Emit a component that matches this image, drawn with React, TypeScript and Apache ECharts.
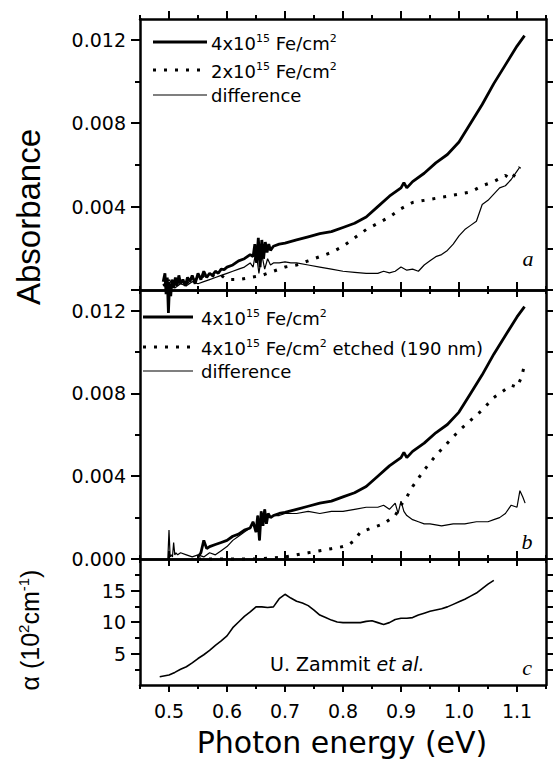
import React, { useEffect, useRef } from 'react';
import * as echarts from 'echarts';

// ---------- axis ticks ----------
const xMajor = [0.5, 0.6, 0.7, 0.8, 0.9, 1.0, 1.1];
const xMinor = [0.45, 0.55, 0.65, 0.75, 0.85, 0.95, 1.05, 1.15];
const absMajor = [0, 0.004, 0.008, 0.012];
const absMinor = [0.002, 0.006, 0.010];
const absLabelsA = [0.004, 0.008, 0.012];
const absLabelsB = [0, 0.004, 0.008, 0.012];
const alphaMajor = [5, 10, 15];
const alphaMinor = [2.5, 7.5, 12.5, 17.5];

// ---------- panel a ----------
const a4E = [0.490, 0.493, 0.495, 0.497, 0.499, 0.501, 0.503, 0.505, 0.508, 0.511, 0.514, 0.517, 0.52, 0.524, 0.528, 0.532, 0.536, 0.54, 0.545, 0.55, 0.555, 0.56, 0.565, 0.57, 0.575, 0.58, 0.585, 0.59, 0.595, 0.6, 0.61, 0.62, 0.63, 0.64, 0.645, 0.648, 0.651, 0.654, 0.657, 0.66, 0.663, 0.666, 0.669, 0.672, 0.675, 0.68, 0.69, 0.7, 0.72, 0.74, 0.76, 0.78, 0.8, 0.82, 0.84, 0.86, 0.88, 0.9, 0.905, 0.91, 0.92, 0.94, 0.96, 0.98, 1.0, 1.02, 1.04, 1.06, 1.08, 1.1, 1.113];
const a4A = [0.0004, 0.0008, -0.0002, 0.0006, -0.0011, 0.0003, -0.0003, 0.0005, 0.0001, 0.0006, 0.0002, 0.0007, 0.0003, 0.0005, 0.0002, 0.0006, 0.0004, 0.0007, 0.0003, 0.0008, 0.0005, 0.0009, 0.0006, 0.0008, 0.0007, 0.0009, 0.0008, 0.001, 0.00098, 0.0011, 0.0012, 0.0014, 0.0015, 0.0017, 0.0016, 0.0022, 0.0013, 0.0025, 0.0011, 0.0024, 0.0015, 0.0023, 0.0018, 0.0022, 0.0019, 0.0021, 0.0022, 0.00225, 0.0024, 0.00255, 0.0027, 0.0028, 0.003, 0.0032, 0.0035, 0.004, 0.0045, 0.0049, 0.00515, 0.0049, 0.0052, 0.0056, 0.0061, 0.0065, 0.0071, 0.008, 0.0089, 0.0099, 0.0108, 0.0117, 0.0122];

const a2E = [0.49, 0.5, 0.51, 0.52, 0.53, 0.54, 0.55, 0.56, 0.57, 0.58, 0.59, 0.6, 0.62, 0.64, 0.66, 0.68, 0.7, 0.72, 0.74, 0.76, 0.78, 0.8, 0.82, 0.84, 0.86, 0.88, 0.9, 0.92, 0.94, 0.96, 0.98, 1.0, 1.02, 1.04, 1.06, 1.08, 1.09, 1.1, 1.105];
const a2A = [0.0002, 0.0004, 0.0001, 0.0005, 0.0003, 0.0006, 0.0004, 0.0007, 0.0008, 0.0006, 0.0007, 0.0005, 0.0005, 0.0006, 0.0007, 0.0009, 0.0011, 0.0012, 0.0014, 0.0016, 0.0018, 0.0021, 0.0025, 0.0029, 0.0032, 0.0035, 0.0039, 0.0042, 0.0043, 0.0044, 0.0045, 0.0046, 0.0047, 0.005, 0.0052, 0.0055, 0.0053, 0.0057, 0.0059];

const aDE = [0.49, 0.5, 0.51, 0.52, 0.53, 0.54, 0.55, 0.56, 0.57, 0.58, 0.59, 0.6, 0.61, 0.62, 0.63, 0.64, 0.645, 0.65, 0.655, 0.66, 0.665, 0.67, 0.675, 0.68, 0.69, 0.7, 0.71, 0.72, 0.74, 0.76, 0.78, 0.8, 0.82, 0.84, 0.86, 0.87, 0.88, 0.89, 0.9, 0.91, 0.92, 0.93, 0.94, 0.95, 0.96, 0.97, 0.98, 0.99, 1.0, 1.01, 1.02, 1.03, 1.04, 1.05, 1.06, 1.07, 1.08, 1.09, 1.1, 1.105];
const aDA = [0.0002, 0.0005, 0.0001, 0.0003, 0.0002, 0.0004, 0.0003, 0.0004, 0.0005, 0.0006, 0.0007, 0.0008, 0.0009, 0.001, 0.0011, 0.0013, 0.0011, 0.0019, 0.0008, 0.0017, 0.001, 0.0015, 0.0012, 0.0013, 0.0013, 0.00135, 0.0013, 0.0013, 0.0012, 0.0011, 0.001, 0.0009, 0.00085, 0.0008, 0.0008, 0.0009, 0.00082, 0.0009, 0.0011, 0.00095, 0.001, 0.0009, 0.0012, 0.0014, 0.0016, 0.0017, 0.0019, 0.0022, 0.0026, 0.0029, 0.0031, 0.0033, 0.0041, 0.0043, 0.0046, 0.0049, 0.005, 0.0053, 0.0057, 0.0059];

// ---------- panel b ----------
const b4E = [0.55, 0.555, 0.56, 0.565, 0.57, 0.58, 0.59, 0.6, 0.61, 0.62, 0.63, 0.64, 0.645, 0.65, 0.653, 0.656, 0.659, 0.662, 0.665, 0.668, 0.671, 0.675, 0.68, 0.69, 0.7, 0.72, 0.74, 0.76, 0.78, 0.8, 0.82, 0.84, 0.86, 0.88, 0.9, 0.905, 0.91, 0.92, 0.94, 0.96, 0.98, 1.0, 1.02, 1.04, 1.06, 1.08, 1.1, 1.113];
const b4A = [0.0001, 0.0003, 0.0009, 0.0005, 0.0006, 0.0007, 0.0008, 0.0009, 0.0011, 0.0012, 0.0014, 0.0015, 0.0018, 0.0013, 0.0021, 0.0009, 0.0023, 0.0016, 0.0024, 0.0017, 0.0022, 0.002, 0.0021, 0.0022, 0.00225, 0.0024, 0.00255, 0.0027, 0.0028, 0.003, 0.0032, 0.0035, 0.004, 0.0045, 0.0049, 0.00515, 0.0049, 0.0052, 0.0056, 0.0061, 0.0065, 0.0071, 0.008, 0.0089, 0.0099, 0.0108, 0.0117, 0.0122];

const bEtE = [0.55, 0.6, 0.65, 0.7, 0.72, 0.74, 0.76, 0.78, 0.8, 0.81, 0.82, 0.83, 0.84, 0.85, 0.86, 0.87, 0.88, 0.89, 0.9, 0.91, 0.92, 0.94, 0.96, 0.98, 1.0, 1.02, 1.04, 1.06, 1.08, 1.09, 1.1, 1.108, 1.113];
const bEtA = [0.0, 0.0, 0.0, 0.0001, 0.0002, 0.0003, 0.0004, 0.0005, 0.0006, 0.0007, 0.0009, 0.0013, 0.0014, 0.0015, 0.0016, 0.0017, 0.0019, 0.0021, 0.0026, 0.003, 0.0035, 0.0043, 0.005, 0.0056, 0.0062, 0.0067, 0.0072, 0.0078, 0.0082, 0.0084, 0.0083, 0.0088, 0.0094];

const bDE = [0.498, 0.5, 0.502, 0.504, 0.506, 0.508, 0.51, 0.512, 0.515, 0.52, 0.53, 0.54, 0.55, 0.56, 0.57, 0.58, 0.59, 0.6, 0.61, 0.62, 0.63, 0.64, 0.645, 0.65, 0.653, 0.656, 0.659, 0.662, 0.665, 0.668, 0.671, 0.675, 0.68, 0.69, 0.7, 0.72, 0.74, 0.76, 0.78, 0.8, 0.82, 0.84, 0.86, 0.87, 0.88, 0.89, 0.895, 0.9, 0.905, 0.91, 0.92, 0.93, 0.94, 0.95, 0.97, 0.99, 1.01, 1.03, 1.05, 1.06, 1.07, 1.08, 1.09, 1.1, 1.105, 1.11, 1.114];
const bDA = [0, 0.0014, 0.0001, 0.0002, 0.0001, 0.0008, 0.0002, 0.0003, 0.0002, 0.0003, 0.0002, 0.0001, 0.0002, 0.0001, 0.0003, 0.0002, 0.0004, 0.0006, 0.0009, 0.0011, 0.0013, 0.0015, 0.0018, 0.0013, 0.0021, 0.0009, 0.0023, 0.0016, 0.0024, 0.0017, 0.0022, 0.002, 0.0021, 0.0021, 0.0022, 0.0022, 0.0023, 0.0022, 0.0023, 0.0023, 0.0024, 0.0025, 0.0025, 0.0026, 0.0024, 0.0027, 0.0022, 0.0028, 0.0023, 0.0021, 0.0019, 0.0018, 0.0017, 0.0017, 0.0016, 0.0017, 0.0017, 0.0018, 0.0018, 0.0019, 0.002, 0.0022, 0.0026, 0.0025, 0.0033, 0.003, 0.0027];

// ---------- panel c ----------
const cE = [0.484, 0.5, 0.51, 0.52, 0.53, 0.54, 0.55, 0.56, 0.57, 0.58, 0.59, 0.6, 0.61, 0.62, 0.63, 0.64, 0.65, 0.66, 0.67, 0.68, 0.69, 0.7, 0.71, 0.72, 0.73, 0.74, 0.75, 0.76, 0.77, 0.78, 0.79, 0.8, 0.81, 0.82, 0.83, 0.84, 0.85, 0.86, 0.87, 0.88, 0.89, 0.9, 0.91, 0.92, 0.93, 0.94, 0.95, 0.96, 0.97, 0.98, 0.99, 1.0, 1.01, 1.02, 1.03, 1.04, 1.05, 1.06];
const cA = [1.3, 1.6, 2.0, 2.5, 2.9, 3.5, 4.2, 4.8, 5.5, 6.3, 7.0, 7.8, 9.1, 10.0, 10.9, 11.6, 12.4, 12.4, 12.3, 12.4, 13.7, 14.4, 13.8, 13.3, 13.0, 12.6, 11.9, 11.1, 10.7, 10.3, 10.0, 9.9, 9.9, 9.9, 9.9, 10.1, 10.2, 9.9, 9.6, 9.9, 10.4, 10.6, 10.6, 10.7, 11.1, 11.4, 11.7, 11.9, 12.1, 12.4, 12.8, 13.2, 13.6, 14.1, 14.6, 15.3, 16.0, 16.6];

const zip = (xs: number[], ys: number[]) => xs.map((x, i) => [x, ys[i]]);

const FONT = 'DejaVu Sans';
const AX = { color: '#000', width: 2.5 };

function xAxes(gridIndex: number, labels: boolean) {
  const base = { type: 'value', gridIndex, min: 0.45, max: 1.15, splitLine: { show: false } };
  const mk = (position: string, ticks: number[], len: number, line: boolean, lab: boolean) => ({
    ...base,
    position,
    axisLine: { show: line, onZero: false, lineStyle: AX },
    axisTick: { show: true, customValues: ticks, length: len, inside: false, lineStyle: { color: '#000', width: 2 } },
    axisLabel: lab
      ? { show: true, customValues: xMajor, formatter: (v: number) => v.toFixed(1), margin: 16, fontFamily: FONT, fontSize: 19, color: '#000' }
      : { show: false },
  });
  return [
    mk('bottom', xMajor, 7, true, labels),
    mk('bottom', xMinor, 4, false, false),
    mk('top', xMajor, 8, true, false),
    mk('top', xMinor, 4, false, false),
  ];
}

function yAxes(gridIndex: number, min: number, max: number, major: number[], minor: number[], labels: number[], fmt: (v: number) => string) {
  const base = { type: 'value', gridIndex, min, max, splitLine: { show: false } };
  const mk = (position: string, ticks: number[], len: number, line: boolean, lab: boolean) => ({
    ...base,
    position,
    axisLine: { show: line, onZero: false, lineStyle: AX },
    axisTick: { show: true, customValues: ticks, length: len, inside: false, lineStyle: { color: '#000', width: 2 } },
    axisLabel: lab
      ? { show: true, customValues: labels, formatter: fmt, margin: 14, fontFamily: FONT, fontSize: 19, color: '#000' }
      : { show: false },
  });
  return [
    mk('left', major, 9, true, true),
    mk('left', minor, 5, false, false),
    mk('right', major, 7, true, false),
    mk('right', minor, 7, false, false),
  ];
}

const line = (xi: number, data: number[][], style: any) => ({
  type: 'line',
  xAxisIndex: xi,
  yAxisIndex: xi,
  data,
  symbol: 'none',
  showSymbol: false,
  clip: false,
  silent: true,
  lineStyle: { color: '#000', ...style },
});

const THICK = { width: 2.8 };
const THIN = { width: 1.2 };
const DOT = { width: 3, type: [3, 8] };

const supRich = {
  n: { fontSize: 18, fontFamily: FONT, lineHeight: 20, verticalAlign: 'middle', fill: '#000', color: '#000' },
  sup: { fontSize: 11, fontFamily: FONT, lineHeight: 8, verticalAlign: 'top', fill: '#000', color: '#000' },
};

function legendText(x: number, y: number, text: string) {
  return {
    type: 'text',
    x,
    y,
    style: {
      text,
      rich: supRich,
      fontSize: 18,
      fontFamily: FONT,
      fill: '#000',
      align: 'left',
      textAlign: 'left',
      verticalAlign: 'middle',
      textVerticalAlign: 'middle',
    },
  };
}

function legendLine(x1: number, x2: number, y: number, st: any) {
  return { type: 'line', shape: { x1, y1: y, x2, y2: y }, style: { stroke: '#000', ...st } };
}

function plainText(x: number, y: number, text: string, font: any, rotation = 0, align = 'center', rich?: any) {
  return {
    type: 'text',
    x,
    y,
    rotation,
    style: {
      text,
      fill: '#000',
      align,
      textAlign: align,
      verticalAlign: 'middle',
      textVerticalAlign: 'middle',
      ...font,
      ...(rich ? { rich } : {}),
    },
  };
}

export default function App() {
  const ref = useRef<HTMLDivElement>(null);
  useEffect(() => {
    if (!ref.current) return;
    const chart = echarts.init(ref.current, null, { renderer: 'svg' });
    const fmt3 = (v: number) => v.toFixed(3);
    const fmt0 = (v: number) => String(Math.round(v));
    const option: any = {
      animation: false,
      backgroundColor: '#fff',
      grid: [
        { left: 140, top: 19, width: 406, height: 271 },
        { left: 140, top: 290, width: 406, height: 269 },
        { left: 140, top: 559, width: 406, height: 126 },
      ],
      xAxis: [...xAxes(0, false), ...xAxes(1, false), ...xAxes(2, true)],
      yAxis: [
        ...yAxes(0, 0, 0.013, absMajor, absMinor, absLabelsA, fmt3),
        ...yAxes(1, 0, 0.013, absMajor, absMinor, absLabelsB, fmt3),
        ...yAxes(2, 0, 20, alphaMajor, alphaMinor, alphaMajor, fmt0),
      ],
      series: [
        line(0, zip(a2E, a2A), DOT),
        line(0, zip(aDE, aDA), THIN),
        line(0, zip(a4E, a4A), THICK),
        line(4, zip(bEtE, bEtA), DOT),
        line(4, zip(bDE, bDA), THIN),
        line(4, zip(b4E, b4A), THICK),
        line(8, zip(cE, cA), { width: 1.6 }),
      ],
      graphic: [
        legendLine(153, 207, 42, { lineWidth: 2.8 }),
        legendLine(153, 207, 70, { lineWidth: 3, lineDash: [3, 8] }),
        legendLine(153, 207, 95, { lineWidth: 1.2 }),
        legendText(211, 43, '{n|4x10}{sup|15}{n| Fe/cm}{sup|2}'),
        legendText(211, 71, '{n|2x10}{sup|15}{n| Fe/cm}{sup|2}'),
        legendText(211, 95, '{n|difference}'),
        legendLine(143, 193, 317, { lineWidth: 2.8 }),
        legendLine(143, 193, 347, { lineWidth: 3, lineDash: [3, 8] }),
        legendLine(143, 193, 371, { lineWidth: 1.2 }),
        legendText(201, 318, '{n|4x10}{sup|15}{n| Fe/cm}{sup|2}'),
        legendText(201, 348, '{n|4x10}{sup|15}{n| Fe/cm}{sup|2}{n| etched (190 nm)}'),
        legendText(201, 371, '{n|difference}'),
        plainText(28, 217, 'Absorbance', { fontSize: 33, fontFamily: 'Liberation Sans' }, Math.PI / 2),
        plainText(30, 630, '{m|α (10}{s|2}{m|cm}{s|-1}{m|)}', { fontSize: 25, fontFamily: 'Liberation Sans' }, Math.PI / 2, 'center', {
          m: { fontSize: 25, fontFamily: 'Liberation Sans', lineHeight: 28, verticalAlign: 'middle', fill: '#000', color: '#000' },
          s: { fontSize: 15, fontFamily: 'Liberation Sans', lineHeight: 10, verticalAlign: 'top', fill: '#000', color: '#000' },
        }),
        plainText(342, 742, 'Photon energy (eV)', { fontSize: 30, fontFamily: FONT }),
        plainText(528, 258, 'a', { fontSize: 22, fontFamily: 'Liberation Serif', fontStyle: 'italic' }),
        plainText(527, 541, 'b', { fontSize: 22, fontFamily: 'Liberation Serif', fontStyle: 'italic' }),
        plainText(527, 667, 'c', { fontSize: 22, fontFamily: 'Liberation Serif', fontStyle: 'italic' }),
        plainText(270, 664, '{n|U. Zammit }{i|et al.}', { fontSize: 19, fontFamily: FONT }, 0, 'left', {
          n: { fontSize: 19, fontFamily: FONT, fill: '#000', color: '#000' },
          i: { fontSize: 19, fontFamily: FONT, fontStyle: 'italic', fill: '#000', color: '#000' },
        }),
      ],
    };
    chart.setOption(option);
    return () => chart.dispose();
  }, []);
  return <div ref={ref} style={{ position: 'fixed', left: 0, top: 0, width: 553, height: 762, background: '#fff' }} />;
}
